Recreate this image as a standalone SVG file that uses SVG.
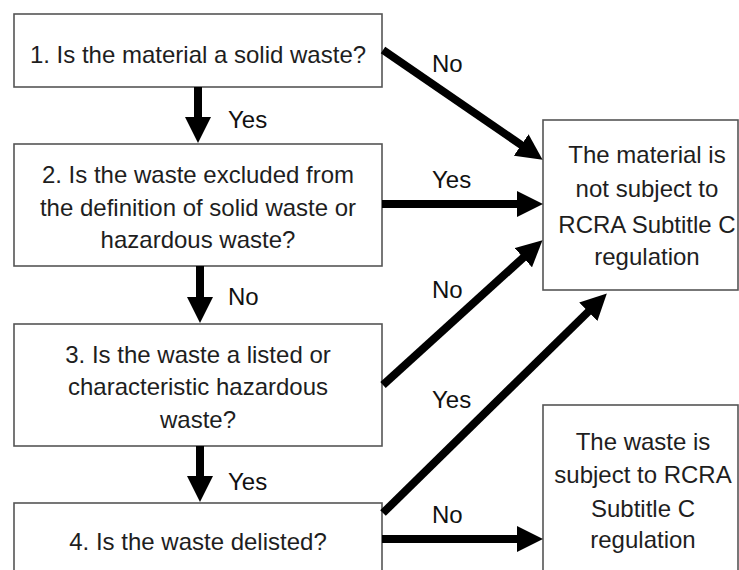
<svg xmlns="http://www.w3.org/2000/svg" width="739" height="570" viewBox="0 0 739 570">
<style>
.box{fill:#fff;stroke:#555;stroke-width:1.6}
.t{font-family:"Liberation Sans",Arial,sans-serif;font-size:24px;fill:#1e1e1e;text-anchor:middle}
.lbl{font-family:"Liberation Sans",Arial,sans-serif;font-size:24px;fill:#111}
.c{stroke:#000;stroke-width:8;fill:none;marker-end:url(#ah)}
</style>
<defs>
<marker id="ah" markerUnits="userSpaceOnUse" markerWidth="27" markerHeight="26" refX="1" refY="13" orient="auto" viewBox="0 0 27 26">
<path d="M0,0 L26,13 L0,26 z" fill="#000"/>
</marker>
</defs>
<rect width="739" height="570" fill="#fff"/>
<g id="n1"><rect class="box" x="14" y="14" width="368" height="73"/><text class="t" x="198" y="63">1. Is the material a solid waste?</text></g>
<g id="n2"><rect class="box" x="14" y="144" width="368" height="122"/><text class="t" x="198" y="183">2. Is the waste excluded from</text><text class="t" x="198" y="216">the definition of solid waste or</text><text class="t" x="198" y="248">hazardous waste?</text></g>
<g id="n3"><rect class="box" x="14" y="324" width="368" height="122"/><text class="t" x="198" y="363">3. Is the waste a listed or</text><text class="t" x="198" y="395">characteristic hazardous</text><text class="t" x="198" y="428">waste?</text></g>
<g id="n4"><rect class="box" x="14" y="503" width="368" height="80"/><text class="t" x="198" y="550">4. Is the waste delisted?</text></g>
<g id="r1"><rect class="box" x="543" y="120" width="195" height="170"/><text class="t" x="647" y="163">The material is</text><text class="t" x="647" y="197">not subject to</text><text class="t" x="647" y="233">RCRA Subtitle C</text><text class="t" x="647" y="265">regulation</text></g>
<g id="r2"><rect class="box" x="543" y="405" width="195" height="180"/><text class="t" x="643" y="450">The waste is</text><text class="t" x="643" y="483">subject to RCRA</text><text class="t" x="643" y="517">Subtitle C</text><text class="t" x="643" y="548">regulation</text></g>
<g id="connectors">
<line class="c" x1="198" y1="87" x2="198" y2="118"/>
<line class="c" x1="200" y1="266" x2="200" y2="298"/>
<line class="c" x1="200" y1="446" x2="200" y2="477"/>
<line class="c" x1="383" y1="50" x2="522" y2="145.5"/>
<line class="c" x1="382" y1="204" x2="518" y2="204"/>
<line class="c" x1="383" y1="385" x2="524" y2="257"/>
<line class="c" x1="383" y1="513" x2="589" y2="311"/>
<line class="c" x1="382" y1="539" x2="518" y2="539"/>
<text class="lbl" x="228" y="128">Yes</text>
<text class="lbl" x="228" y="305">No</text>
<text class="lbl" x="228" y="490">Yes</text>
<text class="lbl" x="432" y="72">No</text>
<text class="lbl" x="432" y="188">Yes</text>
<text class="lbl" x="432" y="298">No</text>
<text class="lbl" x="432" y="408">Yes</text>
<text class="lbl" x="432" y="523">No</text>
</g>
</svg>
